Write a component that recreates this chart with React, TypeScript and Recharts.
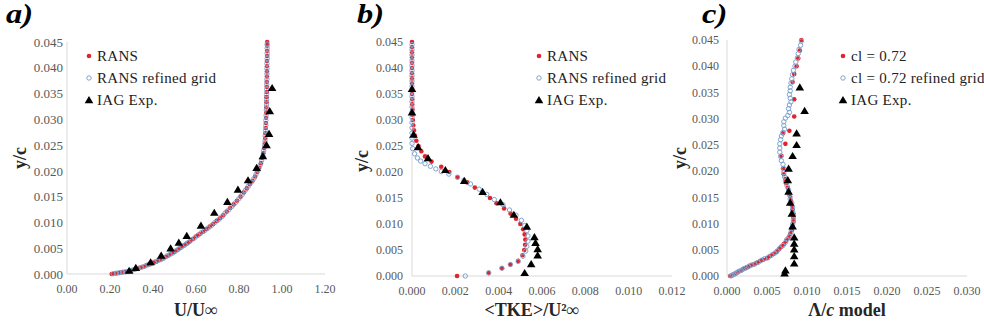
import React from "react";
import { ScatterChart, Scatter, XAxis, YAxis, Legend } from "recharts";

const SERIF = "'Liberation Serif', 'Times New Roman', serif";
const RED = "#e0242c";
const BLUE = "#7ea5d1";
const AXIS = "#d9d9d9";
const TICK = "#595959";

// shared y ticks (y/c)
const yTicks = [0, 0.005, 0.01, 0.015, 0.02, 0.025, 0.03, 0.035, 0.04, 0.045];

// ---- panel a: U/U∞ vs y/c  ([U, y])
const aTicks = [0, 0.2, 0.4, 0.6, 0.8, 1.0, 1.2];
const aRans = [
  [0.208, 0], [0.222, 0.0001], [0.237, 0.0002], [0.251, 0.0003], [0.265, 0.0004], [0.279, 0.00045],
  [0.293, 0.0006], [0.308, 0.0008], [0.323, 0.001], [0.339, 0.0012], [0.355, 0.0014], [0.37, 0.0017],
  [0.385, 0.0019], [0.4, 0.0022], [0.415, 0.0024], [0.43, 0.0027], [0.444, 0.003], [0.458, 0.0033],
  [0.472, 0.0036], [0.486, 0.004], [0.5, 0.0043], [0.514, 0.0047], [0.528, 0.0051], [0.542, 0.0055],
  [0.557, 0.0059], [0.571, 0.0063], [0.586, 0.0068], [0.601, 0.0073], [0.616, 0.0077], [0.632, 0.0082],
  [0.648, 0.0087], [0.664, 0.0092], [0.68, 0.0097], [0.696, 0.0103], [0.712, 0.0108], [0.727, 0.0114],
  [0.743, 0.0121], [0.759, 0.0128], [0.775, 0.0135], [0.791, 0.0142], [0.807, 0.015], [0.822, 0.0158],
  [0.836, 0.0166], [0.85, 0.0174], [0.863, 0.0181], [0.875, 0.0189], [0.885, 0.0198], [0.894, 0.0206],
  [0.902, 0.0215], [0.908, 0.0225], [0.913, 0.0234], [0.917, 0.0244], [0.92, 0.0253], [0.922, 0.0263],
  [0.923, 0.0273], [0.924, 0.0283], [0.925, 0.0293], [0.926, 0.0303], [0.927, 0.0313], [0.927, 0.0323],
  [0.928, 0.0333], [0.928, 0.0343], [0.929, 0.0353], [0.929, 0.0363], [0.929, 0.0373], [0.93, 0.0383],
  [0.93, 0.0393], [0.93, 0.0403], [0.93, 0.0413], [0.931, 0.0423], [0.931, 0.0433], [0.931, 0.0443],
  [0.931, 0.045],
];
const aRefined = [
  [0.215, 0.00005], [0.23, 0.00015], [0.244, 0.00025], [0.258, 0.00035], [0.272, 0.00042], [0.286, 0.0005],
  [0.3, 0.0007], [0.315, 0.0009], [0.331, 0.0011], [0.347, 0.0013], [0.362, 0.0015], [0.377, 0.0018],
  [0.392, 0.002], [0.407, 0.0023], [0.422, 0.0026], [0.437, 0.0028], [0.451, 0.0031], [0.465, 0.0035],
  [0.479, 0.0038], [0.493, 0.0041], [0.507, 0.0045], [0.521, 0.0049], [0.535, 0.0053], [0.55, 0.0057],
  [0.564, 0.0061], [0.578, 0.0066], [0.593, 0.007], [0.608, 0.0075], [0.624, 0.008], [0.64, 0.0084],
  [0.656, 0.0089], [0.672, 0.0094], [0.688, 0.01], [0.704, 0.0105], [0.72, 0.0111], [0.735, 0.0118],
  [0.751, 0.0124], [0.767, 0.0131], [0.783, 0.0138], [0.799, 0.0146], [0.815, 0.0154], [0.829, 0.0162],
  [0.843, 0.017], [0.857, 0.0178], [0.869, 0.0185], [0.88, 0.0194], [0.89, 0.0202], [0.898, 0.0211],
  [0.905, 0.022], [0.911, 0.0229], [0.915, 0.0239], [0.919, 0.0248], [0.921, 0.0258], [0.922, 0.0268],
  [0.924, 0.0278], [0.925, 0.0288], [0.925, 0.0298], [0.926, 0.0308], [0.927, 0.0318], [0.928, 0.0328],
  [0.928, 0.0338], [0.928, 0.0348], [0.929, 0.0358], [0.929, 0.0368], [0.93, 0.0378], [0.93, 0.0388],
  [0.93, 0.0398], [0.93, 0.0408], [0.931, 0.0418], [0.931, 0.0428], [0.931, 0.0438], [0.931, 0.0446],
];
const aExp = [
  [0.289, 0.00065], [0.32, 0.0012], [0.389, 0.0023], [0.438, 0.0036], [0.482, 0.005], [0.52, 0.0061],
  [0.557, 0.0074], [0.623, 0.0094], [0.685, 0.0119], [0.746, 0.014], [0.795, 0.0164], [0.842, 0.0182],
  [0.882, 0.0206], [0.911, 0.0229], [0.928, 0.025], [0.94, 0.0272], [0.943, 0.0316], [0.954, 0.0361],
];

// ---- panel b: <TKE>/U²∞ vs y/c  ([k, y])
const bTicks = [0, 0.002, 0.004, 0.006, 0.008, 0.01, 0.012];
const bRans = [
  [0, 0.045], [0, 0.044], [0, 0.043], [0, 0.042], [0, 0.041], [0, 0.04], [0, 0.039], [0, 0.038],
  [0, 0.037], [0, 0.036], [0, 0.035], [0.00001, 0.034], [0.00001, 0.033], [0.00002, 0.032],
  [0.00003, 0.031], [0.00004, 0.03], [0.00006, 0.029], [0.00009, 0.028], [0.00013, 0.027],
  [0.0002, 0.026], [0.0003, 0.025], [0.00043, 0.024], [0.0006, 0.023], [0.0009, 0.022],
  [0.00135, 0.021], [0.00172, 0.02], [0.0021, 0.019], [0.00255, 0.018], [0.0029, 0.017],
  [0.00325, 0.016], [0.0036, 0.015], [0.0039, 0.014], [0.00425, 0.013], [0.00455, 0.012],
  [0.0048, 0.011], [0.005, 0.01], [0.00513, 0.009], [0.0052, 0.008], [0.00523, 0.007],
  [0.00522, 0.006], [0.00518, 0.005], [0.0051, 0.004], [0.0049, 0.0029], [0.00454, 0.0022],
  [0.00415, 0.0015], [0.00354, 0.0006], [0.00208, 0],
];
const bRefined = [
  [0, 0.0445], [0, 0.0435], [0, 0.0425], [0, 0.0415], [0, 0.0405], [0, 0.0395], [0, 0.0385],
  [0, 0.0375], [0, 0.0365], [0, 0.0355], [0, 0.0345], [0, 0.0335], [0, 0.0325], [0, 0.0315],
  [0, 0.0305], [0, 0.0295], [0, 0.0285], [0, 0.0275], [0, 0.0265], [0, 0.0255], [0.00003, 0.0245],
  [0.00012, 0.0235], [0.00025, 0.0227], [0.0004, 0.0221], [0.0006, 0.0216], [0.00085, 0.0211],
  [0.0011, 0.0206], [0.00135, 0.0201], [0.0017, 0.0196], [0.0021, 0.019], [0.0024, 0.0184],
  [0.0027, 0.0177], [0.0031, 0.0167], [0.00345, 0.0157], [0.0038, 0.0147], [0.0042, 0.0137],
  [0.0045, 0.0127], [0.0048, 0.0117], [0.00505, 0.0107], [0.0052, 0.0097], [0.0053, 0.0087],
  [0.00535, 0.0077], [0.00535, 0.0067], [0.0053, 0.0057], [0.00525, 0.0048], [0.00512, 0.0038],
  [0.0049, 0.0028], [0.00454, 0.0022], [0.00415, 0.0015], [0.00354, 0.0006], [0.00246, 0],
];
const bExp = [
  [0, 0.036], [0, 0.0315], [0.00007, 0.0272], [0.00028, 0.0248], [0.00074, 0.0227], [0.00154, 0.0204],
  [0.00241, 0.0183], [0.00326, 0.0162], [0.00408, 0.0142], [0.0047, 0.0118], [0.0053, 0.0095],
  [0.00565, 0.0075], [0.0057, 0.0064], [0.0058, 0.0052], [0.0058, 0.004], [0.0055, 0.0023], [0.0052, 0.0006],
];

// ---- panel c: Λ/c model vs y/c  ([L, y])
const cTicks = [0, 0.005, 0.01, 0.015, 0.02, 0.025, 0.03];
const cRans = [
  [0.0004, 0], [0.0006, 0.0001], [0.0008, 0.0003], [0.001, 0.0004], [0.0012, 0.0006], [0.0014, 0.0008],
  [0.0017, 0.001], [0.002, 0.0013], [0.0023, 0.0015], [0.0026, 0.0017], [0.0029, 0.002], [0.0033, 0.0022],
  [0.0037, 0.0025], [0.0041, 0.0028], [0.0045, 0.0031], [0.005, 0.0034], [0.0054, 0.0038], [0.0058, 0.0042],
  [0.0062, 0.0046], [0.0065, 0.0051], [0.0068, 0.0056], [0.0071, 0.0061], [0.0074, 0.0067], [0.0077, 0.0073],
  [0.0079, 0.008], [0.0081, 0.0087], [0.0082, 0.0095], [0.0083, 0.0103], [0.0083, 0.0111], [0.0083, 0.0119],
  [0.0082, 0.0127], [0.0081, 0.0135], [0.008, 0.0143], [0.0079, 0.0151], [0.0077, 0.016], [0.0076, 0.0168],
  [0.0074, 0.0177], [0.0073, 0.0185], [0.0071, 0.0194], [0.007, 0.0205], [0.0068, 0.0229], [0.0073, 0.0252],
  [0.007, 0.0272], [0.0078, 0.0277], [0.0084, 0.0304], [0.0084, 0.0337], [0.0082, 0.037], [0.0084, 0.0385],
  [0.0087, 0.04], [0.0089, 0.0415], [0.0091, 0.043], [0.0093, 0.045],
];
const cRefined = [
  [0.0005, 0.00005], [0.0007, 0.0002], [0.0009, 0.00035], [0.0011, 0.0005], [0.0013, 0.0007], [0.0015, 0.0009],
  [0.0018, 0.0011], [0.0021, 0.0014], [0.0024, 0.0016], [0.0027, 0.0018], [0.0031, 0.0021], [0.0035, 0.0023],
  [0.0039, 0.0026], [0.0043, 0.003], [0.0047, 0.0033], [0.0052, 0.0036], [0.0056, 0.004], [0.006, 0.0044],
  [0.0063, 0.0048], [0.0066, 0.0053], [0.007, 0.0058], [0.0073, 0.0064], [0.0075, 0.007], [0.0078, 0.0076],
  [0.008, 0.0083], [0.0081, 0.0091], [0.0082, 0.0099], [0.0083, 0.0107], [0.0083, 0.0115], [0.0082, 0.0123],
  [0.0082, 0.0131], [0.0081, 0.0139], [0.0079, 0.0147], [0.0078, 0.0155], [0.0077, 0.0164], [0.0075, 0.0172],
  [0.0073, 0.0181], [0.0072, 0.0189], [0.0071, 0.0197], [0.0071, 0.0205], [0.007, 0.0213], [0.0068, 0.022],
  [0.0067, 0.0228], [0.0066, 0.0236], [0.0066, 0.0244], [0.0066, 0.0252], [0.0067, 0.026], [0.0068, 0.0267],
  [0.007, 0.0274], [0.0072, 0.028], [0.0071, 0.0287], [0.0071, 0.0294], [0.0073, 0.0301], [0.0076, 0.0306],
  [0.0078, 0.0312], [0.0077, 0.0319], [0.0078, 0.0326], [0.008, 0.0332], [0.0079, 0.0339], [0.0078, 0.0346],
  [0.0079, 0.0353], [0.0079, 0.036], [0.008, 0.0368], [0.0081, 0.0376], [0.0082, 0.0384], [0.0083, 0.0392],
  [0.0085, 0.04], [0.0086, 0.0408], [0.0088, 0.0416], [0.0089, 0.0424], [0.009, 0.0432], [0.0092, 0.044],
  [0.0093, 0.0448],
];
const cExp = [
  [0.0091, 0.036], [0.0097, 0.0315], [0.0087, 0.0272], [0.0087, 0.025], [0.0082, 0.0229], [0.0077, 0.0205],
  [0.0076, 0.0183], [0.0077, 0.0161], [0.0079, 0.014], [0.0081, 0.0119], [0.0082, 0.0095], [0.0084, 0.0074],
  [0.0084, 0.0062], [0.0084, 0.0051], [0.0084, 0.0038], [0.0084, 0.0024], [0.0073, 0.0011], [0.0072, 0.0005],
];

const toPts = (arr: number[][]) => arr.map(([x, y]) => ({ x, y }));

const RedDot = (p: any) => <circle cx={p.cx} cy={p.cy} r={2.3} fill={RED} />;
const RingDot = (p: any) => (
  <circle cx={p.cx} cy={p.cy} r={2.2} fill="none" stroke={BLUE} strokeWidth={1} />
);
const Tri = (p: any) => (
  <path d={`M${p.cx},${p.cy - 4}L${p.cx + 4.3},${p.cy + 3.2}L${p.cx - 4.3},${p.cy + 3.2}Z`} fill="#000" />
);

const LegendBox = ({ names }: { names: string[] }) => (
  <div style={{ fontFamily: SERIF, fontSize: 15, letterSpacing: 0.3, color: "#222", whiteSpace: "nowrap" }}>
    {names.map((n, i) => (
      <div key={n} style={{ display: "flex", alignItems: "center", height: 22 }}>
        <svg width={10} height={10} style={{ marginRight: 3 }}>
          {i === 0 && <circle cx={5} cy={5} r={2.3} fill={RED} />}
          {i === 1 && <circle cx={5} cy={5} r={2.2} fill="none" stroke={BLUE} strokeWidth={1} />}
          {i === 2 && <path d="M5,1L9.3,8.2L0.7,8.2Z" fill="#000" />}
        </svg>
        <span>{n}</span>
      </div>
    ))}
  </div>
);

type PanelProps = {
  left: number;
  width: number;
  yWidth: number;
  margin: { top: number; right: number; bottom: number; left: number };
  xMax: number;
  xTicks: number[];
  xDigits: number;
  yTickMargin: number;
  yTickFont: number;
  rans: number[][];
  refined: number[][];
  exp: number[][];
  names: string[];
  legendX: number;
  xTitle: React.ReactNode;
  xTitleX: number;
  yTitleX: number;
  yTitleY: number;
  tag: string;
  tagX: number;
};

const Panel = (p: PanelProps) => (
  <div style={{ position: "absolute", left: p.left, top: 0 }}>
    <ScatterChart width={p.width} height={329} margin={p.margin}>
      <XAxis
        type="number"
        dataKey="x"
        domain={[0, p.xMax]}
        ticks={p.xTicks}
        interval={0}
        tickFormatter={(v: number) => v.toFixed(p.xDigits)}
        axisLine={{ stroke: AXIS }}
        tickLine={false}
        tickSize={0}
        tickMargin={10}
        height={30}
        tick={{ fill: TICK, fontSize: 12, fontFamily: SERIF }}
        label={{
          content: () => (
            <text
              x={p.xTitleX}
              y={316}
              textAnchor="middle"
              fontFamily={SERIF}
              fontWeight="bold"
              fontSize={18}
              fill="#262626"
            >
              {p.xTitle}
            </text>
          ),
        }}
      />
      <YAxis
        type="number"
        dataKey="y"
        domain={[0, 0.045]}
        ticks={yTicks}
        interval={0}
        tickFormatter={(v: number) => v.toFixed(3)}
        axisLine={{ stroke: AXIS }}
        tickLine={false}
        tickSize={0}
        tickMargin={p.yTickMargin}
        width={p.yWidth}
        tick={{ fill: TICK, fontSize: p.yTickFont, fontFamily: SERIF }}
        label={{
          content: () => (
            <text
              x={p.yTitleX}
              y={p.yTitleY}
              textAnchor="middle"
              dominantBaseline="central"
              transform={`rotate(-90 ${p.yTitleX} ${p.yTitleY})`}
              fontFamily={SERIF}
              fontWeight="bold"
              fontSize={18}
              fill="#262626"
            >
              y/c
            </text>
          ),
        }}
      />
      <Legend
        layout="vertical"
        align="center"
        verticalAlign="middle"
        wrapperStyle={{ left: p.legendX - 5, top: 45, width: "auto" }}
        content={() => <LegendBox names={p.names} />}
      />
      <Scatter data={toPts(p.rans)} shape={RedDot} isAnimationActive={false} />
      <Scatter data={toPts(p.refined)} shape={RingDot} isAnimationActive={false} />
      <Scatter data={toPts(p.exp)} shape={Tri} isAnimationActive={false} />
    </ScatterChart>
    <div
      style={{
        position: "absolute",
        left: p.tagX,
        top: 1,
        fontFamily: SERIF,
        fontWeight: "bold",
        fontStyle: "italic",
        fontSize: 27,
        lineHeight: "27px",
        transform: "scaleX(1.2)",
        transformOrigin: "left top",
      }}
    >
      {p.tag}
    </div>
  </div>
);

export default function App() {
  return (
    <div style={{ position: "absolute", left: 0, top: 0, width: 984, height: 329, background: "#fff" }}>
      <Panel
        left={0}
        width={345}
        yWidth={67}
        margin={{ top: 42, right: 20, bottom: 25, left: 0 }}
        xMax={1.2}
        xTicks={aTicks}
        xDigits={2}
        yTickMargin={4}
        yTickFont={13}
        rans={aRans}
        refined={aRefined}
        exp={aExp}
        names={["RANS", "RANS refined grid", "IAG Exp."]}
        legendX={89}
        xTitle="U/U∞"
        xTitleX={196}
        yTitleX={20}
        yTitleY={158}
        tag="a)"
        tagX={6}
      />
      <Panel
        left={330}
        width={360}
        yWidth={82}
        margin={{ top: 42, right: 18, bottom: 23, left: 0 }}
        xMax={0.012}
        xTicks={bTicks}
        xDigits={3}
        yTickMargin={9}
        yTickFont={12}
        rans={bRans}
        refined={bRefined}
        exp={bExp}
        names={["RANS", "RANS refined grid", "IAG Exp."]}
        legendX={209}
        xTitle="<TKE>/U²∞"
        xTitleX={202}
        yTitleX={32}
        yTitleY={161}
        tag="b)"
        tagX={27}
      />
      <Panel
        left={660}
        width={324}
        yWidth={67}
        margin={{ top: 40, right: 17, bottom: 23, left: 0 }}
        xMax={0.03}
        xTicks={cTicks}
        xDigits={3}
        yTickMargin={8}
        yTickFont={12}
        rans={cRans}
        refined={cRefined}
        exp={cExp}
        names={["cl = 0.72", "cl = 0.72 refined grid", "IAG Exp."]}
        legendX={183}
        xTitle={
          <>
            <tspan>Λ/</tspan>
            <tspan fontStyle="italic">c</tspan>
            <tspan> model</tspan>
          </>
        }
        xTitleX={187}
        yTitleX={20}
        yTitleY={158}
        tag="c)"
        tagX={42}
      />
    </div>
  );
}
